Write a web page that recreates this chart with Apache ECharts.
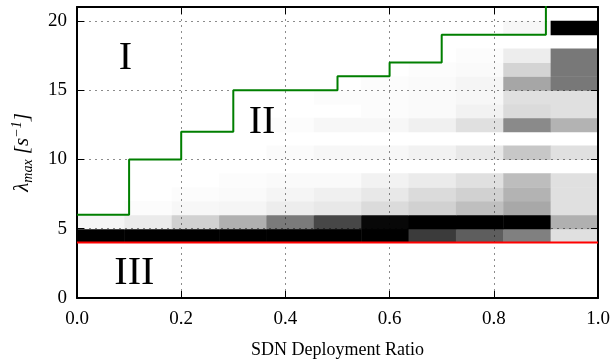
<!DOCTYPE html>
<html>
<head>
<meta charset="utf-8">
<script src="https://cdn.jsdelivr.net/npm/echarts@6/dist/echarts.min.js"></script>
<style>
  html, body { margin: 0; padding: 0; background: #fff; }
  #chart { width: 613px; height: 362px; }
</style>
</head>
<body>
<div id="chart"></div>
<script>
// SDN deployment ratio columns (11 cells spanning 0..1)
const ratios = [0, 0.1, 0.2, 0.3, 0.4, 0.5, 0.6, 0.7, 0.8, 0.9, 1.0];
// lambda rows, each cell covers [row, row + 1]
const rowStart = 4;
// darkness of each cell (0 = white, 1 = black), one array per row, from row 4 upward
const density = [
  [1, 1, 1, 1, 1, 1, 1, 0.77, 0.63, 0.5, 0.12],                 // 4
  [0.04, 0.08, 0.18, 0.31, 0.52, 0.72, 0.97, 1, 1, 1, 0.31],    // 5
  [0, 0.01, 0.03, 0.04, 0.07, 0.09, 0.14, 0.18, 0.25, 0.34, 0.12], // 6
  [0, 0, 0.01, 0.02, 0.04, 0.06, 0.09, 0.14, 0.18, 0.3, 0.12],  // 7
  [0, 0, 0, 0.01, 0.02, 0.02, 0.05, 0.08, 0.12, 0.26, 0.12],    // 8
  [0, 0, 0, 0, 0, 0, 0, 0, 0, 0, 0],                            // 9
  [0, 0, 0, 0, 0.015, 0.03, 0.03, 0.05, 0.09, 0.22, 0.12],      // 10
  [0, 0, 0, 0, 0, 0, 0, 0, 0, 0, 0],                            // 11
  [0, 0, 0, 0, 0.01, 0.03, 0.03, 0.06, 0.12, 0.46, 0.3],        // 12
  [0, 0, 0, 0, 0, 0, 0.01, 0.02, 0.05, 0.14, 0.12],             // 13
  [0, 0, 0, 0, 0, 0.01, 0.01, 0.02, 0.03, 0.12, 0.12],          // 14
  [0, 0, 0, 0, 0, 0, 0.01, 0.02, 0.04, 0.35, 0.53],             // 15
  [0, 0, 0, 0, 0, 0, 0, 0.01, 0.02, 0.17, 0.53],                // 16
  [0, 0, 0, 0, 0, 0, 0, 0, 0.01, 0.07, 0.53],                   // 17
  [0, 0, 0, 0, 0, 0, 0, 0, 0, 0, 0],                            // 18
  [0, 0, 0, 0, 0, 0, 0, 0, 0, 0.03, 1]                          // 19
];
// upper bound (green step line) per ratio
const upperBound = [6, 10, 12, 15, 15, 16, 17, 19, 19, 22, 22];
// lower bound (red line)
const lowerBound = 4;
// region labels
const regionNames = ['I', 'II', 'III'];
const regionPos = [[0.093, 17.3], [0.355, 12.7], [0.11, 1.8]];
const yTicks = [0, 5, 10, 15, 20];

const nCols = ratios.length;
const cells = [];
density.forEach((row, ri) => {
  row.forEach((v, ci) => {
    if (v > 0) {
      cells.push([ci / nCols, (ci + 1) / nCols, rowStart + ri, rowStart + ri + 1, v]);
    }
  });
});

const serif = 'Liberation Serif';
const chart = echarts.init(document.getElementById('chart'));

const xBase = {
  type: 'value', min: 0, max: 1, interval: 0.2, z: 3,
  axisLine: { show: true, onZero: false, lineStyle: { color: '#000', width: 2 } },
  axisTick: { show: true, inside: true, length: 7, lineStyle: { color: '#000', width: 1 } },
  splitLine: { show: false }
};
const yBase = {
  type: 'value', min: 0, max: 21, interval: 5, z: 3,
  axisLine: { show: true, onZero: false, lineStyle: { color: '#000', width: 2 } },
  axisTick: { show: true, inside: true, length: 7, lineStyle: { color: '#000', width: 1 } },
  splitLine: { show: false }
};
const gridLine = { show: true, lineStyle: { color: 'rgba(0,0,0,0.45)', type: [2, 4], width: 1 } };

const option = {
  animation: false,
  backgroundColor: '#fff',
  grid: { left: 77, right: 15, top: 7, bottom: 64, outerBoundsMode: 'none', containLabel: false },
  xAxis: [
    Object.assign({}, xBase, {
      position: 'bottom',
      name: 'SDN Deployment Ratio',
      nameLocation: 'middle',
      nameGap: 43,
      nameTextStyle: { fontFamily: serif, fontSize: 18, color: '#000' },
      axisLabel: {
        fontFamily: serif, fontSize: 19, color: '#000', margin: 12,
        formatter: v => v.toFixed(1)
      },
      splitLine: gridLine
    }),
    Object.assign({}, xBase, { position: 'top', axisLabel: { show: false } })
  ],
  yAxis: [
    Object.assign({}, yBase, {
      position: 'left',
      name: 'λ{sub|max} [{it|s}{sup|−1}]',
      nameLocation: 'middle',
      nameGap: 42,
      nameTextStyle: {
        fontFamily: serif, fontSize: 21, color: '#000', fontStyle: 'italic',
        rich: {
          sub: { fontFamily: serif, fontSize: 14, fontStyle: 'italic', color: '#000', padding: [11, 0, 0, 0] },
          it: { fontFamily: serif, fontSize: 21, fontStyle: 'italic', color: '#000' },
          sup: { fontFamily: serif, fontSize: 14, color: '#000', padding: [0, 0, 11, 0] }
        }
      },
      axisLabel: {
        fontFamily: serif, fontSize: 19, color: '#000', margin: 10,
        showMaxLabel: false,
        formatter: v => (yTicks.indexOf(v) >= 0 ? String(v) : '')
      },
      splitLine: gridLine
    }),
    Object.assign({}, yBase, { position: 'right', axisLabel: { show: false } })
  ],
  series: [
    {
      type: 'custom',
      z: 2,
      clip: true,
      encode: { x: [0, 1], y: [2, 3] },
      data: cells,
      renderItem: (params, api) => {
        const p0 = api.coord([api.value(0), api.value(2)]);
        const p1 = api.coord([api.value(1), api.value(3)]);
        const g = Math.round(255 * (1 - api.value(4)));
        return {
          type: 'rect',
          shape: { x: p0[0], y: p1[1], width: p1[0] - p0[0] + 0.5, height: p0[1] - p1[1] + 0.5 },
          style: { fill: 'rgb(' + g + ',' + g + ',' + g + ')' }
        };
      }
    },
    {
      type: 'line',
      z: 5,
      step: 'end',
      symbol: 'none',
      clip: true,
      lineStyle: { color: '#007f00', width: 2 },
      data: ratios.map((r, i) => [r, upperBound[i]])
    },
    {
      type: 'line',
      z: 5,
      symbol: 'none',
      lineStyle: { color: '#ff0000', width: 2 },
      data: [[0, lowerBound], [1, lowerBound]]
    },
    {
      type: 'scatter',
      z: 6,
      symbolSize: 0,
      silent: true,
      itemStyle: { opacity: 1 },
      data: regionPos.map((p, i) => ({ value: p, name: regionNames[i] })),
      label: {
        show: true, position: 'inside',
        formatter: p => p.name,
        fontFamily: serif, fontSize: 40, color: '#000', opacity: 1
      }
    }
  ]
};
chart.setOption(option);
</script>
</body>
</html>
